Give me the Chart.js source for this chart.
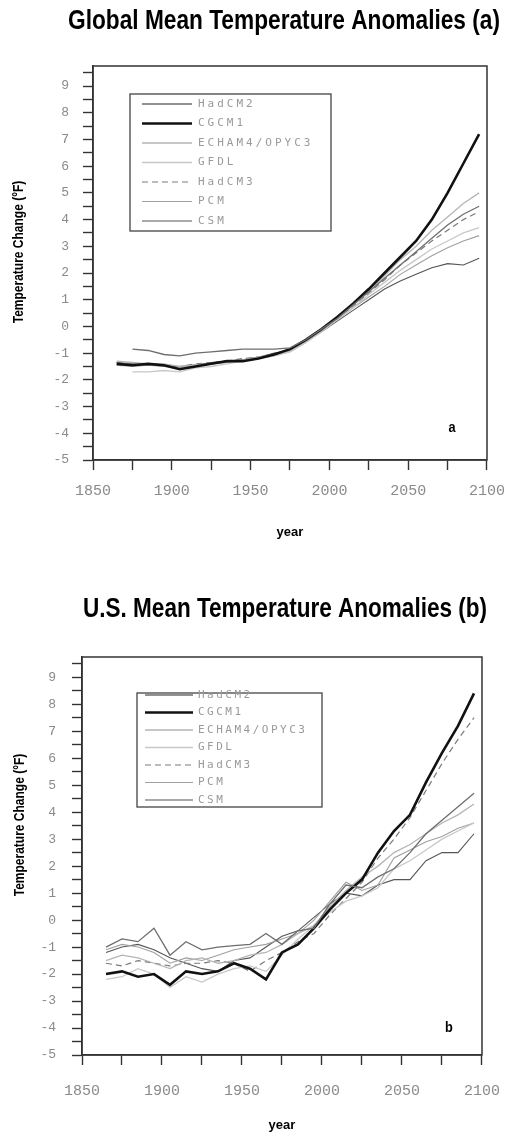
<!DOCTYPE html>
<html>
<head>
<meta charset="utf-8">
<script src="https://cdn.jsdelivr.net/npm/chart.js@4.4.1/dist/chart.umd.min.js"></script>
<style>
  body { margin: 0; background: #fff; }
  canvas { display: block; }
</style>
</head>
<body>
<canvas id="chartGlobal" width="517" height="560"></canvas>
<canvas id="chartUS" width="517" height="573"></canvas>
<script>
// decade steps
const years = [1865, 1875, 1885, 1895, 1905, 1915, 1925, 1935, 1945, 1955, 1965, 1975,
               1985, 1995, 2005, 2015, 2025, 2035, 2045, 2055, 2065, 2075, 2085, 2095];
const modelNames = ["HadCM2", "CGCM1", "ECHAM4/OPYC3", "GFDL", "HadCM3", "PCM", "CSM"];
const xTickValues = [1850, 1875, 1900, 1925, 1950, 1975, 2000, 2025, 2050, 2075, 2100];
const yTickValues = [-5, -4.5, -4, -3.5, -3, -2.5, -2, -1.5, -1, -0.5, 0, 0.5, 1, 1.5, 2, 2.5,
                     3, 3.5, 4, 4.5, 5, 5.5, 6, 6.5, 7, 7.5, 8, 8.5, 9, 9.5];

// (a) global
const globalHadCM2 = [null, -0.85, -0.9, -1.05, -1.1, -1.0, -0.95, -0.9, -0.85, -0.85, -0.85, -0.8,
                      -0.5, -0.1, 0.3, 0.8, 1.3, 1.8, 2.3, 2.8, 3.3, 3.8, 4.2, 4.5];
const globalCGCM1 = [-1.4, -1.45, -1.4, -1.45, -1.6, -1.5, -1.4, -1.3, -1.3, -1.2, -1.05, -0.85,
                     -0.5, -0.1, 0.35, 0.85, 1.4, 2.0, 2.6, 3.2, 4.0, 5.0, 6.1, 7.2];
const globalECHAM4 = [-1.3, -1.35, -1.4, -1.4, -1.5, -1.45, -1.4, -1.3, -1.25, -1.15, -1.05, -0.9,
                      -0.55, -0.15, 0.3, 0.8, 1.3, 1.9, 2.5, 3.0, 3.6, 4.1, 4.6, 5.0];
const globalGFDL = [null, -1.7, -1.7, -1.65, -1.7, -1.55, -1.5, -1.4, -1.3, -1.2, -1.1, -0.95,
                    -0.6, -0.2, 0.25, 0.7, 1.2, 1.65, 2.1, 2.5, 2.9, 3.2, 3.5, 3.7];
const globalHadCM3 = [-1.35, -1.4, -1.4, -1.45, -1.5, -1.4, -1.35, -1.3, -1.2, -1.15, -1.05, -0.9,
                      -0.55, -0.15, 0.3, 0.75, 1.25, 1.75, 2.3, 2.75, 3.2, 3.6, 4.0, 4.3];
const globalPCM = [-1.45, -1.5, -1.45, -1.5, -1.55, -1.45, -1.4, -1.35, -1.3, -1.2, -1.1, -0.95,
                   -0.6, -0.2, 0.25, 0.7, 1.1, 1.5, 1.95, 2.3, 2.65, 2.95, 3.2, 3.4];
const globalCSM = [-1.35, -1.4, -1.4, -1.5, -1.5, -1.45, -1.35, -1.3, -1.25, -1.15, -1.0, -0.9,
                   -0.55, -0.2, 0.2, 0.6, 1.0, 1.4, 1.7, 1.95, 2.2, 2.35, 2.3, 2.55];

// (b) U.S.
const usHadCM2 = [-1.0, -0.7, -0.8, -0.3, -1.3, -0.8, -1.1, -1.0, -0.95, -0.9, -0.5, -0.9,
                  -0.4, -0.3, 0.6, 1.3, 1.2, 1.6, 1.9, 2.5, 3.2, 3.7, 4.2, 4.7];
const usCGCM1 = [-2.0, -1.9, -2.1, -2.0, -2.4, -1.9, -2.0, -1.9, -1.6, -1.8, -2.2, -1.2,
                 -0.9, -0.3, 0.4, 1.0, 1.5, 2.5, 3.3, 3.9, 5.1, 6.2, 7.2, 8.4];
const usECHAM4 = [-1.5, -1.3, -1.4, -1.6, -1.8, -1.5, -1.4, -1.6, -1.5, -1.3, -1.2, -0.9,
                  -0.5, -0.2, 0.5, 1.1, 1.6, 2.0, 2.5, 2.8, 3.2, 3.6, 3.9, 4.3];
const usGFDL = [-2.2, -2.1, -1.8, -2.0, -2.5, -2.1, -2.3, -2.0, -1.8, -1.7, -1.9, -1.3,
                -0.7, -0.2, 0.3, 0.7, 0.9, 1.2, 1.9, 2.2, 2.6, 3.0, 3.3, 3.6];
const usHadCM3 = [-1.6, -1.7, -1.5, -1.6, -1.7, -1.6, -1.6, -1.5, -1.6, -1.9, -1.5, -1.2,
                  -0.8, -0.5, 0.2, 0.8, 1.4, 2.3, 3.0, 3.8, 4.8, 5.8, 6.7, 7.5];
const usPCM = [-1.1, -0.9, -1.0, -1.2, -1.6, -1.4, -1.5, -1.3, -1.1, -1.0, -0.9, -0.7,
               -0.5, 0.0, 0.7, 1.4, 1.1, 1.3, 2.3, 2.6, 2.9, 3.1, 3.4, 3.6];
const usCSM = [-1.2, -1.0, -0.9, -1.1, -1.4, -1.6, -1.8, -1.9, -1.5, -1.4, -1.0, -0.6,
               -0.4, 0.1, 0.6, 1.0, 0.9, 1.3, 1.5, 1.5, 2.2, 2.5, 2.5, 3.2];

const lineStyles = [
  { color: "#6e6e6e", width: 1.3, dash: [] },
  { color: "#111111", width: 2.6, dash: [] },
  { color: "#b5b5b5", width: 1.3, dash: [] },
  { color: "#c8c8c8", width: 1.3, dash: [] },
  { color: "#7a7a7a", width: 1.2, dash: [6, 4] },
  { color: "#a0a0a0", width: 1.1, dash: [] },
  { color: "#555555", width: 1.1, dash: [] },
];

const boldFont = "'Liberation Sans', Arial, sans-serif";

// squeeze text sideways to look like the condensed face of the original
function narrowText(ctx, text, x, y, sx) {
  ctx.save();
  ctx.translate(x, y);
  ctx.scale(sx, 1);
  ctx.fillText(text, 0, 0);
  ctx.restore();
}

const decorPlugin = {
  id: "decor",
  afterDraw(chart, args, o) {
    const ctx = chart.ctx;
    const a = chart.chartArea;
    ctx.save();

    ctx.strokeStyle = "#333";
    ctx.lineWidth = 1.5;
    ctx.strokeRect(a.left, a.top, a.right - a.left, a.bottom - a.top);

    ctx.fillStyle = "#000";
    ctx.textAlign = "center";
    ctx.textBaseline = "middle";
    ctx.font = "bold 27px " + boldFont;
    const w = ctx.measureText(o.headline).width;
    narrowText(ctx, o.headline, o.headlineX, o.headlineY, o.headlineWidth / w);

    ctx.save();
    ctx.translate(o.yTitleX, o.yTitleY);
    ctx.rotate(-Math.PI / 2);
    ctx.font = "bold 15px " + boldFont;
    narrowText(ctx, "Temperature Change (°F)", 0, 0, 0.8);
    ctx.restore();

    ctx.font = "bold 15px " + boldFont;
    narrowText(ctx, o.panel, a.right + o.panelDx, a.bottom + o.panelDy, 0.85);

    // legend box inside the plot
    const lg = o.legend;
    const bx = a.left + lg.dx, by = a.top + lg.dy;
    ctx.strokeStyle = "#444";
    ctx.lineWidth = 1.3;
    ctx.strokeRect(bx, by, lg.w, lg.h);
    ctx.font = lg.fontSize + "px 'DejaVu Sans Mono'";
    ctx.letterSpacing = lg.spacing + "px";
    ctx.textAlign = "left";
    chart.data.datasets.forEach((ds, i) => {
      const ry = by + lg.firstRow + i * lg.rowGap;
      ctx.strokeStyle = ds.borderColor;
      ctx.lineWidth = ds.borderWidth;
      ctx.setLineDash(ds.borderDash || []);
      ctx.beginPath();
      ctx.moveTo(bx + lg.sample0, ry);
      ctx.lineTo(bx + lg.sample1, ry);
      ctx.stroke();
      ctx.setLineDash([]);
      ctx.fillStyle = "#9a9a9a";
      ctx.fillText(ds.label, bx + lg.textX, ry);
    });
    ctx.restore();
  }
};

function buildDatasets(seriesList) {
  return seriesList.map((values, i) => ({
    label: modelNames[i],
    data: years.map((yr, k) => ({ x: yr, y: values[k] })),
    borderColor: lineStyles[i].color,
    borderWidth: lineStyles[i].width,
    borderDash: lineStyles[i].dash,
    pointRadius: 0,
    tension: 0,
    fill: false,
  }));
}

function makeChart(canvasId, seriesList, cfg) {
  const ctx = document.getElementById(canvasId).getContext("2d");
  return new Chart(ctx, {
    type: "line",
    data: { datasets: buildDatasets(seriesList) },
    plugins: [decorPlugin],
    options: {
      responsive: false,
      animation: false,
      layout: { padding: cfg.padding },
      plugins: {
        legend: { display: false },
        tooltip: { enabled: false },
        decor: cfg.decor,
      },
      scales: {
        x: {
          type: "linear",
          min: 1850,
          max: 2100,
          afterBuildTicks: (s) => { s.ticks = xTickValues.map(v => ({ value: v })); },
          afterFit: (s) => { s.height = cfg.xHeight; },
          grid: { drawOnChartArea: false, tickLength: 10, tickColor: "#333", tickWidth: 1.4 },
          border: { color: "#333", width: 1.5 },
          ticks: {
            autoSkip: false,
            maxRotation: 0,
            padding: cfg.xTickPad,
            color: "#8a8a8a",
            font: { family: "Liberation Mono", size: 15 },
            callback: (v) => (v % 50 === 0 ? String(v) : ""),
          },
          title: {
            display: true,
            text: "year",
            color: "#000",
            padding: 0,
            font: { family: "Liberation Sans", weight: "bold", size: 13 },
          },
        },
        y: {
          type: "linear",
          min: -5,
          max: 9.75,
          afterBuildTicks: (s) => { s.ticks = yTickValues.map(v => ({ value: v })); },
          afterFit: (s) => { s.width = cfg.yWidth; },
          grid: { drawOnChartArea: false, tickLength: 10, tickColor: "#333", tickWidth: 1.4 },
          border: { color: "#333", width: 1.5 },
          ticks: {
            autoSkip: false,
            padding: cfg.yTickPad,
            color: "#8a8a8a",
            font: { family: "Liberation Mono", size: 13 },
            callback: (v) => (Number.isInteger(v) ? String(v) : ""),
          },
        },
      },
    },
  });
}

makeChart("chartGlobal",
  [globalHadCM2, globalCGCM1, globalECHAM4, globalGFDL, globalHadCM3, globalPCM, globalCSM],
  {
    padding: { left: 8, right: 25, top: 66, bottom: 20 },
    xHeight: 80, yWidth: 85, xTickPad: 12, yTickPad: 14,
    decor: {
      headline: "Global Mean Temperature Anomalies (a)", headlineX: 284, headlineY: 22, headlineWidth: 432,
      yTitleX: 19, yTitleY: 252, panel: "a", panelDx: -35, panelDy: -32,
      legend: { dx: 37, dy: 28, w: 201, h: 137, firstRow: 10, rowGap: 19.5,
                sample0: 12, sample1: 62, textX: 68, fontSize: 11, spacing: 3 },
    },
  });

makeChart("chartUS",
  [usHadCM2, usCGCM1, usECHAM4, usGFDL, usHadCM3, usPCM, usCSM],
  {
    padding: { left: 8, right: 30, top: 97, bottom: 0 },
    xHeight: 78, yWidth: 74, xTickPad: 17, yTickPad: 16,
    decor: {
      headline: "U.S. Mean Temperature Anomalies (b)", headlineX: 285, headlineY: 50, headlineWidth: 404,
      yTitleX: 20, yTitleY: 265, panel: "b", panelDx: -33, panelDy: -27,
      legend: { dx: 55, dy: 36, w: 185, h: 114, firstRow: 2, rowGap: 17.5,
                sample0: 8, sample1: 56, textX: 61, fontSize: 11, spacing: 2.5 },
    },
  });
</script>
</body>
</html>
